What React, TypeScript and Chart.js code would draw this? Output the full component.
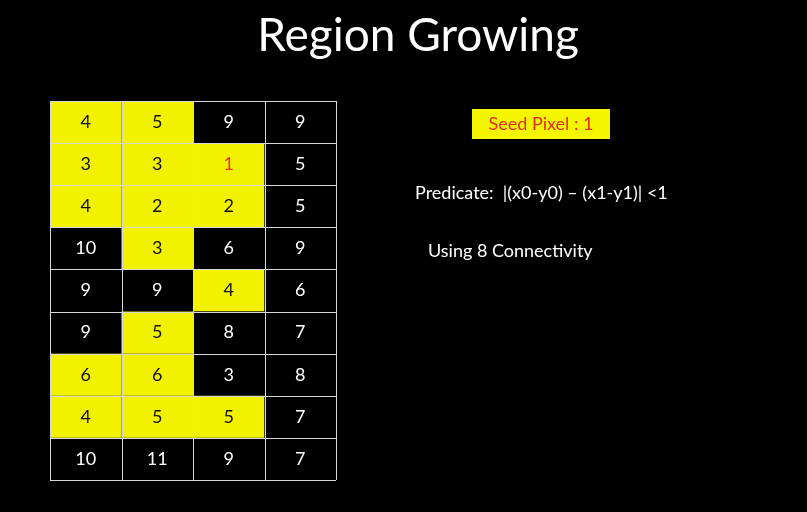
import React, { useEffect, useRef } from "react";
import { Chart, registerables } from "chart.js";
Chart.register(...registerables);

const rows = [
  [4, 5, 9, 9],
  [3, 3, 1, 5],
  [4, 2, 2, 5],
  [10, 3, 6, 9],
  [9, 9, 4, 6],
  [9, 5, 8, 7],
  [6, 6, 3, 8],
  [4, 5, 5, 7],
  [10, 11, 9, 7],
];
const region = [
  [1, 1, 0, 0],
  [1, 1, 1, 0],
  [1, 1, 1, 0],
  [0, 1, 0, 0],
  [0, 0, 1, 0],
  [0, 1, 0, 0],
  [1, 1, 0, 0],
  [1, 1, 1, 0],
  [0, 0, 0, 0],
];
const seed = { r: 1, c: 2 };
const title = "Region Growing";
const seedLabel = "Seed Pixel : 1";
const predicate = "Predicate:  |(x0-y0) \u2013 (x1-y1)| <1";
const connectivity = "Using 8 Connectivity";

const FONT = "Lato, 'Open Sans', sans-serif";

const gridPlugin = {
  id: "grid",
  beforeDatasetsDraw(chart: any) {
    const { ctx, scales } = chart;
    const x = scales.x, y = scales.y;
    ctx.save();
    ctx.fillStyle = "#000";
    ctx.fillRect(0, 0, chart.width, chart.height);
    rows.forEach((row, r) => {
      row.forEach((v, c) => {
        const x0 = x.getPixelForValue(c), x1 = x.getPixelForValue(c + 1);
        const y0 = y.getPixelForValue(r), y1 = y.getPixelForValue(r + 1);
        ctx.fillStyle = region[r][c] ? "#f2f200" : "#000";
        ctx.fillRect(x0, y0, x1 - x0, y1 - y0);
        ctx.fillStyle = r === seed.r && c === seed.c ? "#e8341c" : region[r][c] ? "#111" : "#fff";
        ctx.font = `18px ${FONT}`;
        ctx.textAlign = "center";
        ctx.textBaseline = "middle";
        ctx.fillText(String(v), (x0 + x1) / 2, (y0 + y1) / 2);
      });
    });
    ctx.strokeStyle = "#d8d8d8";
    ctx.lineWidth = 1;
    for (let c = 0; c <= 4; c++) {
      const px = Math.round(x.getPixelForValue(c)) + 0.5;
      ctx.beginPath(); ctx.moveTo(px, y.getPixelForValue(0)); ctx.lineTo(px, y.getPixelForValue(9)); ctx.stroke();
    }
    for (let r = 0; r <= 9; r++) {
      const py = Math.round(y.getPixelForValue(r)) + 0.5;
      ctx.beginPath(); ctx.moveTo(x.getPixelForValue(0), py); ctx.lineTo(x.getPixelForValue(4), py); ctx.stroke();
    }
    ctx.fillStyle = "#fff";
    ctx.textAlign = "center";
    ctx.textBaseline = "middle";
    ctx.font = `46px ${FONT}`;
    ctx.fillText(title, 418, 36);
    ctx.fillStyle = "#f5f500";
    ctx.fillRect(472, 109, 138, 30);
    ctx.fillStyle = "#e0301c";
    ctx.font = `18px ${FONT}`;
    ctx.fillText(seedLabel, 541, 124);
    ctx.fillStyle = "#fff";
    ctx.textAlign = "left";
    ctx.fillText(predicate, 415, 193);
    ctx.fillText(connectivity, 428, 251);
    ctx.restore();
  },
};

export default function App() {
  const ref = useRef<HTMLCanvasElement>(null);
  useEffect(() => {
    document.body.style.margin = "0";
    document.body.style.background = "#000";
    const chart = new Chart(ref.current!, {
      type: "scatter",
      data: { datasets: [{ data: [], pointRadius: 0 }] },
      options: {
        animation: false,
        responsive: false,
        plugins: { legend: { display: false }, tooltip: { enabled: false } },
        layout: { padding: { left: 50, top: 101, right: 471, bottom: 32 } },
        scales: {
          x: { type: "linear", min: 0, max: 4, display: false },
          y: { type: "linear", min: 0, max: 9, reverse: true, display: false },
        },
      },
      plugins: [gridPlugin],
    });
    return () => chart.destroy();
  }, []);
  return (
    <div style={{ position: "fixed", left: 0, top: 0, width: 807, height: 512, background: "#000" }}>
      <canvas ref={ref} width={807} height={512} style={{ width: 807, height: 512 }} />
    </div>
  );
}
